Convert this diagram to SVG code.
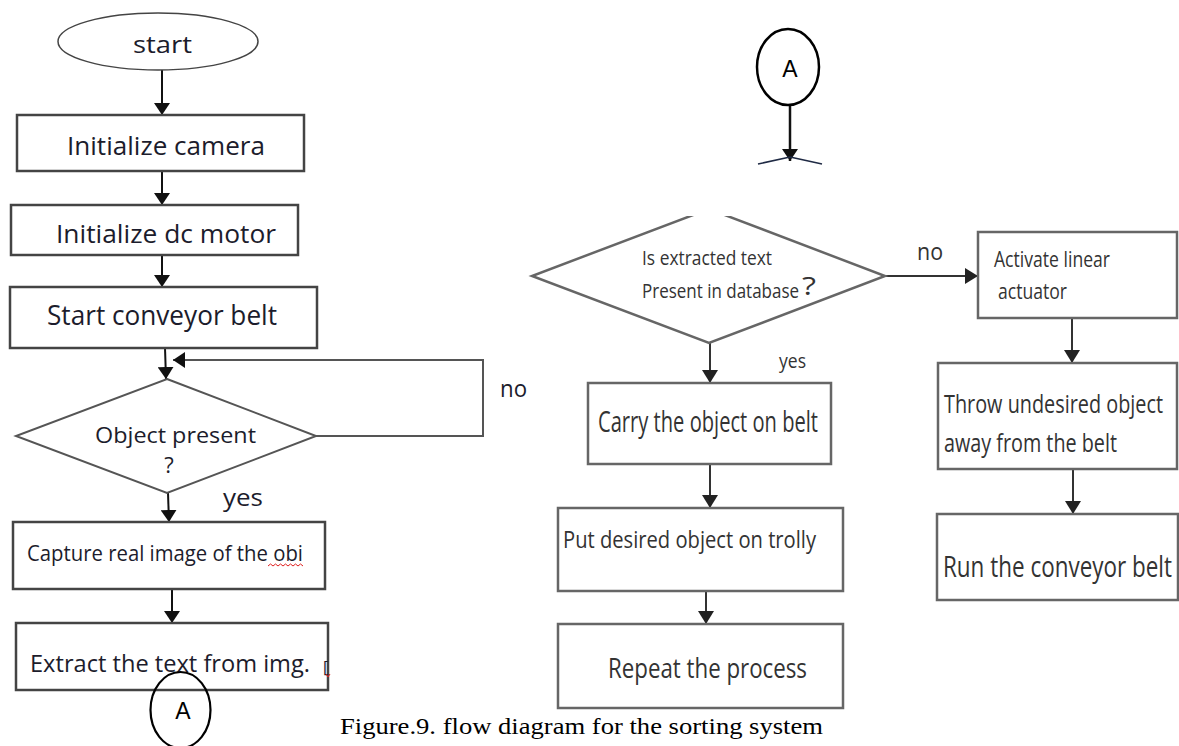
<svg xmlns="http://www.w3.org/2000/svg" width="1179" height="746" viewBox="0 0 1179 746">
<defs>
<style>
.box{fill:#fff;stroke:#444;stroke-width:2.5}
.rbox{fill:#fff;stroke:#666;stroke-width:2.5}
.lt{font-family:"Open Sans","Noto Sans",sans-serif;fill:#1c1c2c}
.rt{font-family:"Open Sans","Noto Sans",sans-serif;fill:#333}
.cn{fill:none;stroke:#111;stroke-width:2}
.rcn{fill:none;stroke:#333;stroke-width:2}
</style>
<marker id="ah" markerUnits="userSpaceOnUse" markerWidth="12" markerHeight="16" refX="12" refY="8" orient="auto">
<path d="M0,0 L12,8 L0,16 z" fill="#111"/>
</marker>
<marker id="rah" markerUnits="userSpaceOnUse" markerWidth="13" markerHeight="16" refX="13" refY="8" orient="auto">
<path d="M0,0 L13,8 L0,16 z" fill="#222"/>
</marker>
<clipPath id="clipD"><rect x="500" y="216" width="420" height="140"/></clipPath>
</defs>
<rect width="1179" height="746" fill="#fff"/>

<g id="connectors">
<line class="cn" x1="162" y1="70" x2="162" y2="115" marker-end="url(#ah)"/>
<line class="cn" x1="162" y1="171" x2="162" y2="205" marker-end="url(#ah)"/>
<line class="cn" x1="162" y1="255" x2="162" y2="287" marker-end="url(#ah)"/>
<line class="cn" x1="165" y1="348" x2="166" y2="379" marker-end="url(#ah)"/>
<polyline class="cn" points="316,436 483,436 483,360 173,360" marker-end="url(#ah)" style="stroke:#555"/>
<line class="cn" x1="168" y1="493" x2="169" y2="522" marker-end="url(#ah)"/>
<line class="cn" x1="172" y1="589" x2="172" y2="623" marker-end="url(#ah)"/>
<line class="cn" x1="790" y1="96" x2="790" y2="161" marker-end="url(#ah)" style="stroke-width:2.5"/>
<line x1="790" y1="157" x2="758" y2="164" stroke="#1f2a44" stroke-width="1.5"/>
<line x1="790" y1="157" x2="822" y2="164" stroke="#1f2a44" stroke-width="1.5"/>
<line class="rcn" x1="885" y1="276" x2="978" y2="276" marker-end="url(#rah)"/>
<line class="rcn" x1="710" y1="343" x2="710" y2="383" marker-end="url(#rah)"/>
<line class="rcn" x1="1072" y1="318" x2="1072" y2="363" marker-end="url(#rah)"/>
<line class="rcn" x1="710" y1="464" x2="710" y2="508" marker-end="url(#rah)"/>
<line class="rcn" x1="1073" y1="469" x2="1073" y2="514" marker-end="url(#rah)"/>
<line class="rcn" x1="706" y1="591" x2="706" y2="624" marker-end="url(#rah)"/>
</g>

<g id="n-start">
<ellipse cx="158" cy="41.5" rx="100" ry="28.5" fill="#fff" stroke="#444" stroke-width="1.5"/>
<text class="lt" x="133" y="53" font-size="24" textLength="59" lengthAdjust="spacingAndGlyphs">start</text>
</g>
<g id="n-camera">
<rect class="box" x="17" y="115" width="287" height="56"/>
<text class="lt" x="67" y="155" font-size="26" textLength="198" lengthAdjust="spacingAndGlyphs">Initialize camera</text>
</g>
<g id="n-motor">
<rect class="box" x="11" y="205" width="287" height="50"/>
<text class="lt" x="56" y="243" font-size="26" textLength="220" lengthAdjust="spacingAndGlyphs">Initialize dc motor</text>
</g>
<g id="n-belt">
<rect class="box" x="10" y="287" width="307" height="61"/>
<text class="lt" x="47" y="325" font-size="27" textLength="230" lengthAdjust="spacingAndGlyphs">Start conveyor belt</text>
</g>
<g id="n-present">
<polygon points="167,379 316,436 167,493 16,436" fill="#fff" stroke="#555" stroke-width="2"/>
<text class="lt" x="95" y="443" font-size="22" textLength="161" lengthAdjust="spacingAndGlyphs">Object present</text>
<text class="lt" x="169" y="473" font-size="22" text-anchor="middle">?</text>
</g>
<text class="lt" x="223" y="506" font-size="23" textLength="40" lengthAdjust="spacingAndGlyphs">yes</text>
<text class="lt" x="500" y="397" font-size="24" textLength="27" lengthAdjust="spacingAndGlyphs">no</text>
<g id="n-capture">
<rect class="box" x="13" y="522" width="312" height="67"/>
<text class="lt" x="27" y="561" font-size="21" textLength="276" lengthAdjust="spacingAndGlyphs">Capture real image of the obi</text>
<path d="M268,566 l2.5,-2 l2.5,2 l2.5,-2 l2.5,2 l2.5,-2 l2.5,2 l2.5,-2 l2.5,2 l2.5,-2 l2.5,2 l2.5,-2 l2.5,2 l2.5,-2 l2.5,2" fill="none" stroke="#e02020" stroke-width="1"/>
</g>
<g id="n-extract">
<rect class="box" x="16" y="623" width="312" height="67"/>
<text class="lt" x="30" y="672" font-size="23" textLength="280" lengthAdjust="spacingAndGlyphs">Extract the text from img.</text>
<text class="lt" x="323" y="673" font-size="16">[</text>
<path d="M326,674 l2,3 l2,-3" fill="none" stroke="#e02020" stroke-width="1"/>
</g>
<g id="n-A1">
<ellipse cx="180.5" cy="710" rx="30" ry="38" fill="none" stroke="#000" stroke-width="2.2"/>
<text x="183" y="719" font-family="Liberation Sans, Arial, sans-serif" font-size="23" text-anchor="middle" fill="#000">A</text>
</g>
<g id="n-A2">
<ellipse cx="788" cy="67" rx="31" ry="38" fill="#fff" stroke="#000" stroke-width="2.5"/>
<text x="790" y="77" font-family="Liberation Sans, Arial, sans-serif" font-size="23" text-anchor="middle" fill="#000">A</text>
</g>

<g id="n-database">
<polygon clip-path="url(#clipD)" points="709,209 885,276 709,343 532,276" fill="#fff" stroke="#666" stroke-width="2.5"/>
<text class="rt" x="642" y="265" font-size="20" textLength="130" lengthAdjust="spacingAndGlyphs">Is extracted text</text>
<text class="rt" x="642" y="298" font-size="20" textLength="157" lengthAdjust="spacingAndGlyphs">Present in database</text>
<text class="rt" x="802" y="295" font-size="25" textLength="14" lengthAdjust="spacingAndGlyphs">?</text>
</g>
<text class="rt" x="917" y="260" font-size="24" textLength="26" lengthAdjust="spacingAndGlyphs">no</text>
<text class="rt" x="779" y="368" font-size="20" textLength="27" lengthAdjust="spacingAndGlyphs">yes</text>
<g id="n-activate">
<rect class="rbox" x="978" y="232" width="199" height="86"/>
<text class="rt" x="994" y="267" font-size="21" textLength="116" lengthAdjust="spacingAndGlyphs">Activate linear</text>
<text class="rt" x="998" y="299" font-size="21" textLength="69" lengthAdjust="spacingAndGlyphs">actuator</text>
</g>
<g id="n-carry">
<rect class="rbox" x="588" y="383" width="243" height="81"/>
<text class="rt" x="598" y="432" font-size="29" textLength="220" lengthAdjust="spacingAndGlyphs">Carry the object on belt</text>
</g>
<g id="n-throw">
<rect class="rbox" x="938" y="363" width="239" height="106"/>
<text class="rt" x="944" y="413" font-size="25" textLength="219" lengthAdjust="spacingAndGlyphs">Throw undesired object</text>
<text class="rt" x="944" y="452" font-size="25" textLength="173" lengthAdjust="spacingAndGlyphs">away from the belt</text>
</g>
<g id="n-trolly">
<rect class="rbox" x="558" y="508" width="285" height="83"/>
<text class="rt" x="563" y="548" font-size="24" textLength="253" lengthAdjust="spacingAndGlyphs">Put desired object on trolly</text>
</g>
<g id="n-run">
<rect class="rbox" x="937" y="514" width="241" height="86"/>
<text class="rt" x="943" y="577" font-size="30" textLength="229" lengthAdjust="spacingAndGlyphs">Run the conveyor belt</text>
</g>
<g id="n-repeat">
<rect class="rbox" x="558" y="624" width="285" height="84"/>
<text class="rt" x="608" y="678" font-size="27" textLength="199" lengthAdjust="spacingAndGlyphs">Repeat the process</text>
</g>
<text x="340" y="734" font-family="Liberation Serif, Times New Roman, serif" font-size="24" fill="#000" textLength="483" lengthAdjust="spacingAndGlyphs">Figure.9. flow diagram for the sorting system</text>
</svg>
